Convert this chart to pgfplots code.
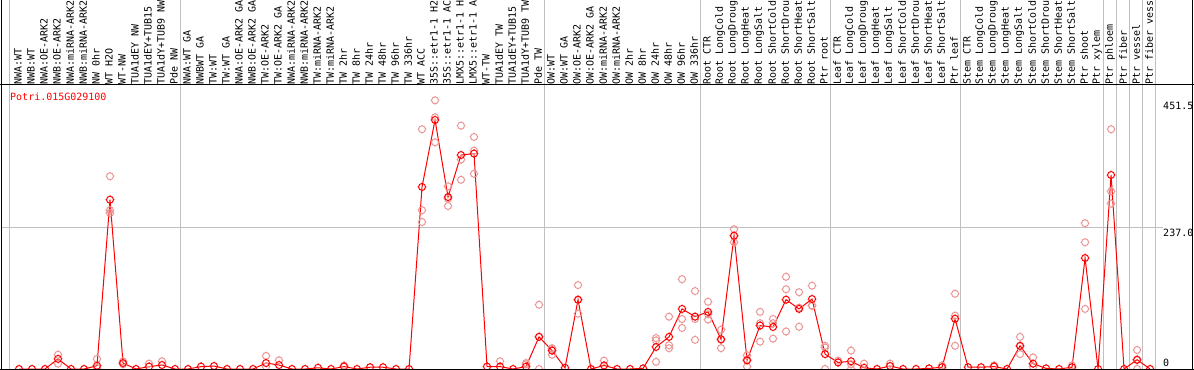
\documentclass[border=0pt]{standalone}
\usepackage{pgfplots}
\usepackage{pgfplotstable}
\pgfplotsset{compat=1.18}
\usepackage{fontspec}
\setmainfont{DejaVu Sans Mono}
\definecolor{pinkrep}{RGB}{235,150,150}
\definecolor{gridgrey}{RGB}{192,192,192}
\newcommand\lab{\fontsize{10bp}{10bp}\selectfont}

\pgfdeclareplotmark{tcirc}{%
  \pgfpathcircle{\pgfpointorigin}{\pgfplotmarksize}%
  \pgfpathmoveto{\pgfpoint{0pt}{\pgfplotmarksize}}\pgfpathlineto{\pgfpoint{0pt}{1.25*\pgfplotmarksize}}%
  \pgfpathmoveto{\pgfpoint{0pt}{-\pgfplotmarksize}}\pgfpathlineto{\pgfpoint{0pt}{-1.25*\pgfplotmarksize}}%
  \pgfpathmoveto{\pgfpoint{\pgfplotmarksize}{0pt}}\pgfpathlineto{\pgfpoint{1.25*\pgfplotmarksize}{0pt}}%
  \pgfpathmoveto{\pgfpoint{-\pgfplotmarksize}{0pt}}\pgfpathlineto{\pgfpoint{-1.25*\pgfplotmarksize}{0pt}}%
  \pgfusepathqstroke}

\pgfplotstableread{
x y
0 0
1 0
2 0
3 17
4 0
5 0
6 5.5
7 284.5
8 10
9 0
10 4
11 6.7
12 0
13 0
14 4
15 5
16 0
17 0
18 0
19 10
20 6.7
21 0
22 0
23 2
24 0
25 4
26 0
27 3
28 3
29 0
30 0
31 306
32 418.5
33 289
34 359.6
35 362
36 4
37 4
38 0
39 4
40 54
41 31
42 2
43 116.5
44 0
45 6
46 0
47 0
48 1
49 37
50 54
51 101
52 88
53 96
54 50
55 224
56 14.5
57 73
58 70.6
59 116.5
60 101
61 117.6
62 25
63 11
64 13
65 2
66 0
67 5
68 0
69 0
70 1
71 3
72 84.5
73 3
74 3
75 4
76 0
77 39
78 9
79 1
80 0
81 3
82 186.5
83 0
84 326
85 0
86 15.6
87 0
}\means

\pgfplotstableread{
x y
3 24
3 9
6 17
6 2
7 324
7 262
7 267
8 13
8 8
10 9
11 13
19 22
19 4
20 14.6
25 6
31 267
31 247
31 403
32 451.5
32 381
32 423
33 307
33 274
33 286
34 409
34 352
34 318
35 390
35 367
35 328
37 13
39 10
39 8
40 108
40 0
40 54
41 35
41 24
41 34
43 141
43 93
43 116
45 14
49 52
49 48
49 12
50 88
50 35
50 40
51 151
51 84
51 69
52 131
52 49
52 84
53 113
53 83
53 92
54 66
54 35
54 49
55 235
55 213
55 224
56 23
56 4
56 16
57 96
57 46
57 77
58 84
58 51
58 77
59 155
59 134
59 63
60 129
60 71
60 103
61 140
61 106
61 107
62 39
62 0
62 36
63 14
64 31
64 0
64 8
65 9
67 9
71 6
72 126.5
72 89.6
72 39
75 6
77 54
77 25
77 38
78 19.5
78 4
81 6
82 245
82 213
82 101
84 403
84 298.5
84 278
86 32
86 0
86 15
}\reps

\begin{document}
\begin{tikzpicture}
\begin{axis}[
  at={(0,0)}, anchor=south west,
  scale only axis, width=1155bp, height=284bp,
  xmin=-1.385, xmax=87.46, ymin=0, ymax=477.3,
  clip=false,
  axis line style={draw=none},
  major tick length=0pt,
  ytick=\empty,
  xtick={0,...,87},
  xticklabel pos=right,
  x tick label style={rotate=90, anchor=west, inner sep=0pt, font=\lab, yshift=1bp},
  xticklabels={NWA:WT,NWB:WT,NWA:OE-ARK2,NWB:OE-ARK2,NWA:miRNA-ARK2,NWB:miRNA-ARK2,NW 0hr,WT H2O,WT-NW,TUA1dEY NW,TUA1dEY+TUB15,TUA1dY+TUB9 NW,Pde NW,NWA:WT GA,NWBWT GA,TW:WT,TW:WT GA,NWA:OE-ARK2 GA,NWB:OE-ARK2 GA,TW:OE-ARK2,TW:OE-ARK2 GA,NWA:miRNA-ARK2,NWB:miRNA-ARK2,TW:miRNA-ARK2,TW:miRNA-ARK2,TW 2hr,TW 8hr,TW 24hr,TW 48hr,TW 96hr,TW 336hr,WT ACC,35S::etr1-1 H2,35S::etr1-1 AC,LMX5::etr1-1 H,LMX5::etr1-1 A,WT-TW,TUA1dEY TW,TUA1dEY+TUB15,TUA1dY+TUB9 TW,Pde TW,OW:WT,OW:WT GA,OW:OE-ARK2,OW:OE-ARK2 GA,OW:miRNA-ARK2,OW:miRNA-ARK2,OW 2hr,OW 8hr,OW 24hr,OW 48hr,OW 96hr,OW 336hr,Root CTR,Root LongCold,Root LongDroug,Root LongHeat,Root LongSalt,Root ShortCold,Root ShortDrou,Root ShortHeat,Root ShortSalt,Ptr root,Leaf CTR,Leaf LongCold,Leaf LongDroug,Leaf LongHeat,Leaf LongSalt,Leaf ShortCold,Leaf ShortDrou,Leaf ShortHeat,Leaf ShortSalt,Ptr leaf,Stem CTR,Stem LongCold,Stem LongDroug,Stem LongHeat,Stem LongSalt,Stem ShortCold,Stem ShortDrou,Stem ShortHeat,Stem ShortSalt,Ptr shoot,Ptr xylem,Ptr phloem,Ptr fiber,Ptr vessel,Ptr fiber vess},
]
\pgfplotsinvokeforeach{-0.7,12.4,40.4,52.45,62.45,72.45,83.4,84.45,85.45,86.45,87.45}{
  \draw[gridgrey, line width=1bp] (axis cs:#1,0) -- (axis cs:#1,621);
}
\draw[gridgrey, line width=1bp] (axis cs:-1.385,237) -- (axis cs:88,237);
\addplot[only marks, mark=tcirc, mark size=3.5bp, pinkrep, line width=1bp] table {\reps};
\addplot[red, line width=1bp, mark=tcirc, mark size=3.5bp] table {\means};
\node[anchor=base west, red, font=\lab, inner sep=0pt, xshift=9bp, yshift=-16bp] at (rel axis cs:0,1) {Potri.015G029100};
\node[anchor=base west, font=\lab, inner sep=0pt, xshift=7bp, yshift=-9bp] at (axis cs:87.46,451.5) {451.5};
\node[anchor=base west, font=\lab, inner sep=0pt, xshift=7bp, yshift=-9bp] at (axis cs:87.46,237) {237.0};
\node[anchor=base west, font=\lab, inner sep=0pt, xshift=7bp, yshift=3bp] at (axis cs:87.46,0) {0};
\end{axis}
\draw[line width=1bp] (0bp,-1bp) -- (0bp,369bp);
\draw[line width=1bp] (1191bp,-1bp) -- (1191bp,369bp);
\draw[line width=1bp] (-1bp,0bp) -- (1193bp,0bp);
\draw[line width=1bp] (-1bp,284bp) -- (1193bp,284bp);
\pgfresetboundingbox
\useasboundingbox (-1bp,-1bp) rectangle (1193bp,369bp);
\end{tikzpicture}
\end{document}
